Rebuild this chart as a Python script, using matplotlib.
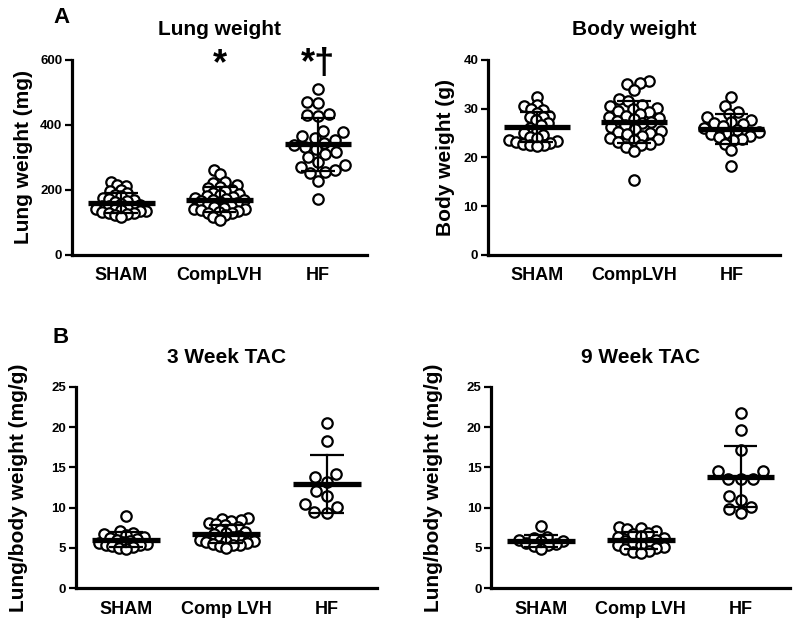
import matplotlib
matplotlib.use("Agg")
import matplotlib.pyplot as plt
import numpy as np

plt.rcParams['font.family'] = ['Liberation Sans', 'DejaVu Sans']
plt.rcParams['font.weight'] = 'bold'

# group names
groups_top = ["SHAM", "CompLVH", "HF"]
groups_bottom = ["SHAM", "Comp LVH", "HF"]

# A: lung weight (mg)
lung_sham = [225, 215, 212, 200, 198, 190, 186, 180, 175, 172, 168, 165, 162, 158, 155,
             152, 150, 148, 145, 142, 140, 138, 135, 135, 132, 130, 128, 125, 122, 118]
lung_lvh = [262, 248, 225, 220, 215, 210, 205, 200, 196, 192, 188, 184, 180, 178, 175,
            172, 170, 168, 165, 162, 160, 156, 152, 148, 145, 142, 140, 138, 135, 132,
            130, 128, 122, 118, 108]
lung_hf = [512, 470, 468, 435, 432, 428, 380, 378, 365, 360, 355, 345, 338, 332, 325,
           318, 310, 300, 285, 278, 272, 262, 255, 252, 228, 172]

# A: body weight (g)
body_sham = [32.4, 30.8, 30.5, 30.0, 29.8, 29.2, 28.6, 28.4, 28.2, 27.6, 27.0, 26.6, 26.0,
             25.5, 25.0, 24.6, 24.2, 24.0, 23.6, 23.4, 23.2, 23.0, 22.8, 22.6, 22.5, 22.4]
body_lvh = [35.6, 35.2, 35.0, 33.8, 32.0, 31.5, 30.8, 30.5, 30.2, 30.0, 29.6, 29.4, 29.0,
            28.6, 28.3, 28.0, 27.8, 27.5, 27.2, 27.0, 26.6, 26.2, 25.9, 25.5, 25.2, 25.0,
            24.8, 24.4, 24.0, 23.8, 23.5, 23.2, 22.8, 22.5, 22.2, 21.4, 15.3]
body_hf = [32.4, 30.6, 29.4, 29.0, 28.2, 27.6, 27.2, 27.0, 26.8, 26.5, 26.0, 25.6, 25.2,
           25.0, 24.8, 24.5, 24.2, 23.8, 23.5, 22.8, 21.5, 18.3]

# B: lung/body weight (mg/g)
wk3_sham = [8.9, 7.1, 6.9, 6.7, 6.6, 6.4, 6.2, 6.1, 6.0, 5.9, 5.7, 5.6, 5.5, 5.4, 5.3,
            5.2, 5.1, 5.0, 4.9]
wk3_lvh = [8.7, 8.6, 8.4, 8.3, 8.1, 7.9, 7.8, 7.6, 7.4, 7.2, 7.0, 6.8, 6.7, 6.5, 6.3,
           6.2, 6.0, 5.9, 5.8, 5.7, 5.6, 5.5, 5.4, 5.3, 5.2, 5.0]
wk3_hf = [20.5, 18.3, 14.2, 13.8, 13.2, 12.1, 11.4, 10.5, 10.1, 9.5, 9.3]

wk9_sham = [7.7, 6.4, 6.2, 6.0, 5.9, 5.8, 5.6, 5.5, 5.3, 5.2, 4.8]
wk9_lvh = [7.6, 7.5, 7.4, 7.1, 6.9, 6.7, 6.5, 6.3, 6.2, 6.0, 5.8, 5.6, 5.5, 5.4, 5.3,
           5.1, 5.0, 4.8, 4.6, 4.5, 4.4]
wk9_hf = [21.8, 19.7, 17.2, 14.5, 14.5, 13.5, 13.5, 13.5, 11.5, 11.0, 10.1, 9.8, 9.3]

DPI = 100
fig = plt.figure(figsize=(8.0, 6.26), dpi=DPI)

D = 12.5      # marker diameter in px
MAXW = 28.0   # max sideways spread of marker centres in px


def swarm(vals, ypx, mind):
    # simple beeswarm: place each point as close to the centre as possible
    vals = np.asarray(vals, float)
    order = np.argsort(vals)
    placed = []
    xs = np.zeros(len(vals))
    for i in order:
        y = vals[i] * ypx
        cands = [0.0]
        for (px, py) in placed:
            dy = abs(py - y)
            if dy < mind:
                dx = np.sqrt(mind ** 2 - dy ** 2)
                cands += [px + dx, px - dx]
        cands.sort(key=lambda c: (abs(c), c))
        for c in cands:
            if all((c - px) ** 2 + (y - py) ** 2 >= mind ** 2 - 1e-6 for px, py in placed):
                break
        placed.append((c, y))
        xs[i] = c
    return xs


def fit_swarm(vals, ypx, xpx):
    # shrink allowed spacing until the group is no wider than MAXW
    f = 1.0
    while True:
        xs = swarm(vals, ypx, D * f)
        if np.abs(xs).max() <= MAXW or f < 0.3:
            return xs / xpx
        f -= 0.04


def panel(rect, data, names, ymax, ystep, title, ylabel, ylab_x, title_pad):
    ax = fig.add_axes(rect)
    ax.set_xlim(-0.5, 2.5)
    ax.set_ylim(0, ymax)
    xpx = rect[2] * 800 / 3.0
    ypx = rect[3] * 626 / ymax
    for k, vals in enumerate(data):
        off = fit_swarm(vals, ypx, xpx)
        ax.scatter(k + off, vals, s=(D * 0.72 - 1.5) ** 2, facecolor='white',
                   edgecolor='black', linewidth=1.6, zorder=3, clip_on=False)
        m = np.mean(vals)
        sd = np.std(vals, ddof=1)
        ax.plot([k - 0.34, k + 0.34], [m, m], color='black', lw=3.8, zorder=5,
                solid_capstyle='butt')
        ax.plot([k, k], [m - sd, m + sd], color='black', lw=1.6, zorder=5)
        for e in (m - sd, m + sd):
            ax.plot([k - 0.17, k + 0.17], [e, e], color='black', lw=1.6, zorder=5,
                    solid_capstyle='butt')
    ax.set_xticks(range(3))
    ax.set_xticklabels(names, fontsize=13, fontweight='bold')
    ax.tick_params(axis='x', length=0, pad=9)
    ax.set_yticks(np.arange(0, ymax + 0.1, ystep))
    ax.tick_params(axis='y', length=5, width=1.6, labelsize=9.5, pad=2)
    for lab in ax.get_yticklabels():
        lab.set_fontweight('bold')
    for s in ('top', 'right'):
        ax.spines[s].set_visible(False)
    for s in ('left', 'bottom'):
        ax.spines[s].set_linewidth(2.3)
    ax.set_title(title, fontsize=15, fontweight='bold', pad=title_pad)
    ax.set_ylabel(ylabel, fontsize=15, fontweight='bold')
    ax.yaxis.set_label_coords(ylab_x, 0.5)
    return ax


axA = panel([0.09, 0.5927, 0.369, 0.3115], [lung_sham, lung_lvh, lung_hf], groups_top,
            600, 200, "Lung weight", "Lung weight (mg)", -0.132, 18)
axA.text(1, 585, "*", ha='center', va='center', fontsize=26, fontweight='bold')
axA.text(2, 585, "*\u2020", ha='center', va='center', fontsize=26, fontweight='bold')

panel([0.61, 0.5927, 0.365, 0.3115], [body_sham, body_lvh, body_hf], groups_top,
      40, 10, "Body weight", "Body weight (g)", -0.113, 18)

panel([0.095, 0.0607, 0.376, 0.3211], [wk3_sham, wk3_lvh, wk3_hf], groups_bottom,
      25, 5, "3 Week TAC", "Lung/body weight (mg/g)", -0.159, 17)

panel([0.614, 0.0607, 0.374, 0.3211], [wk9_sham, wk9_lvh, wk9_hf], groups_bottom,
      25, 5, "9 Week TAC", "Lung/body weight (mg/g)", -0.16, 17)

fig.text(53 / 800, 1 - 23 / 626, "A", fontsize=16, fontweight='bold', ha='left', va='baseline')
fig.text(53 / 800, 1 - 343 / 626, "B", fontsize=16, fontweight='bold', ha='left', va='baseline')

fig.savefig("out.png", dpi=DPI)
